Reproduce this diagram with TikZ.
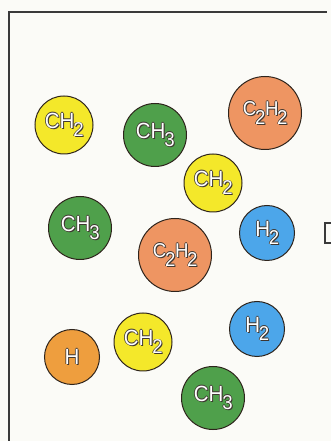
\documentclass[tikz,border=0pt]{standalone}
\usepackage{fontspec}
\setmainfont[FakeStretch=0.93]{Liberation Sans}
\definecolor{bg}{HTML}{FBFBF7}
\definecolor{frame}{HTML}{3A3A3A}
\definecolor{edge}{HTML}{2E241C}
\definecolor{txtedge}{HTML}{3E3630}
\definecolor{yel}{HTML}{F4E82A}
\definecolor{grn}{HTML}{4FA04B}
\definecolor{sal}{HTML}{EE9562}
\definecolor{blu}{HTML}{4CA6EA}
\definecolor{org}{HTML}{EE9E3E}
\newcommand\sbs[1]{\kern-1.2pt\raisebox{-8.5pt}{\fontsize{20}{20}\selectfont #1}\kern-0.5pt}
\newcommand\outl[1]{\leavevmode
 \rlap{\textcolor{txtedge}{\kern-0.7pt#1}}%
 \rlap{\textcolor{txtedge}{\kern0.7pt#1}}%
 \rlap{\textcolor{txtedge}{\raisebox{0.7pt}{#1}}}%
 \rlap{\textcolor{txtedge}{\kern1pt\raisebox{-1pt}{#1}}}%
 \textcolor{white}{#1}}
\tikzset{
 mol/.style={circle, draw=edge, line width=1pt, inner sep=0pt,
   font=\fontsize{22}{22}\selectfont},
 small/.style={mol, minimum size=58pt},
 big/.style={mol, minimum size=73pt, font=\fontsize{20}{20}\selectfont},
 mid/.style={mol, minimum size=63pt},
}
\begin{document}
\begin{tikzpicture}[x=1pt,y=1pt]
\useasboundingbox (0,0) rectangle (331,441);
\fill[bg] (0,0) rectangle (331,441);
\draw[frame, line width=1.4pt] (9,0) -- (9,429) -- (327,429);
\draw[frame, line width=1.2pt] (336,218) -- (325,218) -- (325,198) -- (336,198);
% molecules (y = 441 - pixel y)
\node[small, fill=yel] (a) at (64,316) {\outl{CH\sbs{2}}};
\node[mid, fill=grn] (b) at (155,306) {\outl{CH\sbs{3}}};
\node[big, fill=sal] (c) at (265,328) {\outl{C\sbs{2}H\sbs{2}}};
\node[small, fill=yel] (d) at (213,258) {\outl{CH\sbs{2}}};
\node[mid, fill=grn] (e) at (80,213) {\outl{CH\sbs{3}}};
\node[big, fill=sal] (f) at (175,186) {\outl{C\sbs{2}H\sbs{2}}};
\node[small, minimum size=55pt, fill=blu] (g) at (267,208) {\outl{H\sbs{2}}};
\node[small, minimum size=55pt, fill=org] (h) at (72,84) {\outl{H}};
\node[small, fill=yel] (i) at (143,99) {\outl{CH\sbs{2}}};
\node[small, minimum size=55pt, fill=blu] (j) at (257,112) {\outl{H\sbs{2}}};
\node[mid, fill=grn] (k) at (213,43) {\outl{CH\sbs{3}}};
\end{tikzpicture}
\end{document}
